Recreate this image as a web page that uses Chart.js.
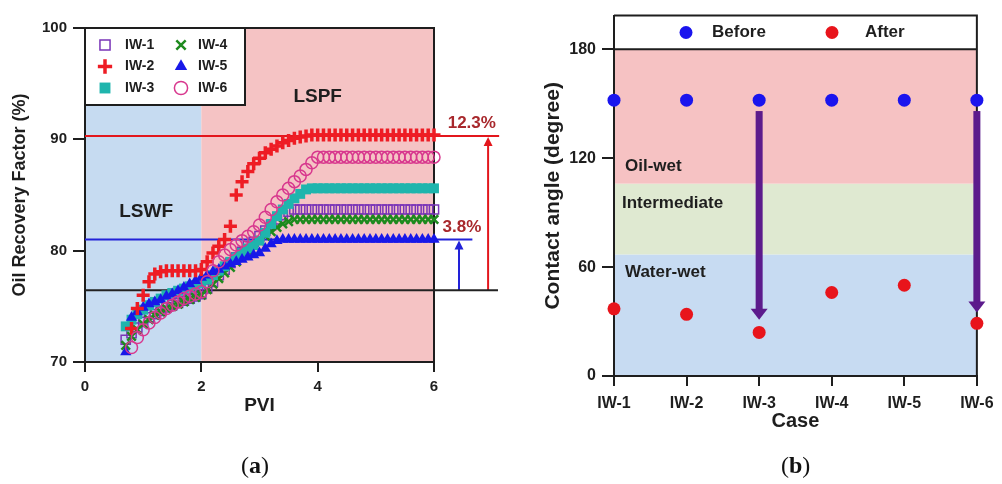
<!DOCTYPE html>
<html>
<head>
<meta charset="utf-8">
<script src="https://cdn.jsdelivr.net/npm/chart.js@4.4.1/dist/chart.umd.min.js"></script>
<style>
  html, body { margin: 0; padding: 0; background: #fff; }
  body { width: 1002px; height: 484px; position: relative; overflow: hidden; }
  canvas { position: absolute; top: 0; }
  #chartA { left: 0; }
  #chartB { left: 510px; }
  .cap { position: absolute; top: 451px; font-family: "Liberation Serif", "DejaVu Serif", serif; font-size: 24px; line-height: 28px; color: #111; }
</style>
</head>
<body>
<canvas id="chartA" width="510" height="484"></canvas>
<canvas id="chartB" width="492" height="484"></canvas>
<div class="cap" style="left:241px">(<b>a</b>)</div>
<div class="cap" style="left:781px">(<b>b</b>)</div>
<script>
// ---------- (a) oil recovery factor vs PVI ----------
const pvi = [0.7,0.8,0.9,1.0,1.1,1.2,1.3,1.4,1.5,1.6,
             1.7,1.8,1.9,2.0,2.1,2.2,2.3,2.4,2.5,2.6,
             2.7,2.8,2.9,3.0,3.1,3.2,3.3,3.4,3.5,3.6,
             3.7,3.8,3.9,4.0,4.1,4.2,4.3,4.4,4.5,4.6,
             4.7,4.8,4.9,5.0,5.1,5.2,5.3,5.4,5.5,5.6,
             5.7,5.8,5.9,6.0];

const iw1 = [72.0,72.6,73.1,73.6,74.0,74.3,74.6,74.9,75.1,75.3,
             75.5,75.7,75.9,76.1,76.6,77.2,77.8,78.3,78.9,79.4,
             79.9,80.4,80.8,81.3,81.8,82.3,82.8,83.2,83.5,83.7,
             83.7,83.7,83.7,83.7,83.7,83.7,83.7,83.7,83.7,83.7,
             83.7,83.7,83.7,83.7,83.7,83.7,83.7,83.7,83.7,83.7,
             83.7,83.7,83.7,83.7];
const iw2 = [null,73.0,74.8,76.0,77.2,77.9,78.1,78.2,78.2,78.2,
             78.2,78.2,78.2,78.3,79.0,79.8,80.4,81.0,82.2,85.0,
             86.2,87.1,87.8,88.3,88.8,89.1,89.4,89.7,89.9,90.1,
             90.2,90.3,90.4,90.4,90.4,90.4,90.4,90.4,90.4,90.4,
             90.4,90.4,90.4,90.4,90.4,90.4,90.4,90.4,90.4,90.4,
             90.4,90.4,90.4,90.4];
const iw3 = [73.2,73.8,74.3,74.7,75.1,75.4,75.7,76.0,76.2,76.4,
             76.6,76.8,76.9,77.1,77.4,77.8,78.2,78.6,79.0,79.4,
             79.8,80.2,80.5,80.9,81.6,82.4,83.1,83.7,84.2,84.7,
             85.1,85.5,85.6,85.6,85.6,85.6,85.6,85.6,85.6,85.6,
             85.6,85.6,85.6,85.6,85.6,85.6,85.6,85.6,85.6,85.6,
             85.6,85.6,85.6,85.6];
const iw4 = [71.5,72.3,72.9,73.4,73.8,74.2,74.5,74.8,75.0,75.2,
             75.4,75.6,75.8,76.0,76.5,77.0,77.5,78.0,78.5,79.0,
             79.5,80.0,80.5,80.9,81.3,81.7,82.1,82.4,82.6,82.8,
             82.8,82.8,82.8,82.8,82.8,82.8,82.8,82.8,82.8,82.8,
             82.8,82.8,82.8,82.8,82.8,82.8,82.8,82.8,82.8,82.8,
             82.8,82.8,82.8,82.8];
const iw5 = [70.9,74.0,74.5,74.9,75.2,75.4,75.6,75.9,76.1,76.4,
             76.7,77.0,77.3,77.6,77.8,78.1,78.3,78.6,78.8,79.0,
             79.2,79.4,79.6,79.8,80.2,80.6,80.9,81.0,81.0,81.0,
             81.0,81.0,81.0,81.0,81.0,81.0,81.0,81.0,81.0,81.0,
             81.0,81.0,81.0,81.0,81.0,81.0,81.0,81.0,81.0,81.0,
             81.0,81.0,81.0,81.0];
const iw6 = [null,71.3,72.2,72.9,73.5,74.0,74.4,74.8,75.1,75.4,
             75.7,75.9,76.1,76.3,77.2,78.2,79.0,79.6,80.1,80.5,
             80.9,81.3,81.7,82.3,83.0,83.7,84.4,85.0,85.6,86.2,
             86.7,87.3,87.9,88.4,88.4,88.4,88.4,88.4,88.4,88.4,
             88.4,88.4,88.4,88.4,88.4,88.4,88.4,88.4,88.4,88.4,
             88.4,88.4,88.4,88.4];

const seriesNames = ["IW-1","IW-2","IW-3","IW-4","IW-5","IW-6"];
const pviTicks = [0, 2, 4, 6];
const recoveryTicks = [70, 80, 90, 100];
const zonesA = [[0, 2], [2, 6]];          // LSWF, LSPF
const refLevels = [90.3, 81.0, 76.45];   // IW-2 end, IW-5 end, base
const refEnds = [7.12, 6.66, 7.1];
const gainLabels = ["12.3%", "3.8%"];
const gainX = [6.93, 6.43];

// ---------- (b) contact angle ----------
const cases = ["IW-1","IW-2","IW-3","IW-4","IW-5","IW-6"];
const angleBefore = [152, 152, 152, 152, 152, 152];
const angleAfter = [37, 34, 24, 46, 50, 29];
const angleTicks = [0, 60, 120, 180];
const wetBands = [[0, 67], [67, 106], [106, 180]];
const arrowCases = [3, 6];
const arrowFrom = 146;
const arrowTo = [31, 35];

const FONT = '"Liberation Sans", Arial, Helvetica, sans-serif';
const INK = "#1e1e1e";

const zoneColorsA = ["#c6dbf1", "#f5c3c4"];
const refColors = ["#e3161c", "#2222d8", "#222222"];
const bandColors = ["#c7dbf2", "#dfe9d1", "#f6c2c3"];

const markA = [
    {style:"rect",     r:6.5, w:1.5, fill:"rgba(0,0,0,0)", line:"#7a35b8", order:5},
    {style:"cross",    r:6.5, w:3.5, fill:"#ee1c24",       line:"#ee1c24", order:1},
    {style:"rect",     r:7,   w:0,   fill:"#1fb5ad",       line:"#1fb5ad", order:3},
    {style:"crossRot", r:6,   w:2.5, fill:"#1e8a1e",       line:"#1e8a1e", order:4},
    {style:"triangle", r:6.5, w:0,   fill:"#1818e8",       line:"#1818e8", order:2},
    {style:"circle",   r:6,   w:1.5, fill:"rgba(0,0,0,0)", line:"#d8388e", order:0}
];

function drawMark(ctx, m, x, y, k) {
    ctx.save();
    ctx.fillStyle = m.fill;
    ctx.strokeStyle = m.line;
    ctx.lineWidth = m.w;
    if (Chart.helpers && Chart.helpers.drawPoint) {
        Chart.helpers.drawPoint(ctx, {pointStyle: m.style, radius: m.r * k, rotation: 0, borderWidth: m.w}, x, y);
    }
    ctx.restore();
}

const panelA = {
    id: "panelA",
    beforeDraw(chart) {
        const {ctx, chartArea: a, scales: {x}} = chart;
        ctx.save();
        zonesA.forEach((z, i) => {
            const x0 = x.getPixelForValue(z[0]), x1 = x.getPixelForValue(z[1]);
            ctx.fillStyle = zoneColorsA[i];
            ctx.fillRect(x0, a.top, x1 - x0, a.bottom - a.top);
        });
        ctx.restore();
    },
    beforeDatasetsDraw(chart) {
        const {ctx, chartArea: a, scales: {x, y}} = chart;
        ctx.save();
        ctx.strokeStyle = INK;
        ctx.lineWidth = 2;
        ctx.beginPath();
        ctx.moveTo(a.left, a.top);
        ctx.lineTo(a.right, a.top);
        ctx.lineTo(a.right, a.bottom);
        ctx.stroke();

        ctx.fillStyle = INK;
        ctx.font = "bold 19px " + FONT;
        ctx.textAlign = "center";
        ctx.textBaseline = "middle";
        ctx.fillText("LSWF", x.getPixelForValue(1.05), y.getPixelForValue(83.5));
        ctx.fillText("LSPF", x.getPixelForValue(4.0), y.getPixelForValue(93.8));

        // gain arrows from the base line up to each final level
        const base = y.getPixelForValue(refLevels[2]);
        gainX.forEach((gx, i) => {
            const ax = x.getPixelForValue(gx);
            const top = y.getPixelForValue(refLevels[i]);
            ctx.strokeStyle = refColors[i];
            ctx.fillStyle = refColors[i];
            ctx.lineWidth = 2;
            ctx.beginPath();
            ctx.moveTo(ax, base);
            ctx.lineTo(ax, top + 7);
            ctx.stroke();
            ctx.beginPath();
            ctx.moveTo(ax, top + 1);
            ctx.lineTo(ax - 4.5, top + 10);
            ctx.lineTo(ax + 4.5, top + 10);
            ctx.closePath();
            ctx.fill();
        });
        ctx.restore();
    },
    afterDraw(chart) {
        const {ctx, chartArea: a, scales: {x, y}} = chart;
        ctx.save();
        // legend box
        const bx = a.left, by = a.top, bw = 160, bh = 77;
        ctx.fillStyle = "#fff";
        ctx.fillRect(bx, by, bw, bh);
        ctx.strokeStyle = INK;
        ctx.lineWidth = 2;
        ctx.strokeRect(bx, by, bw, bh);
        ctx.font = "bold 14px " + FONT;
        ctx.textAlign = "left";
        ctx.textBaseline = "middle";
        seriesNames.forEach((name, i) => {
            const col = Math.floor(i / 3), row = i % 3;
            const ty = by + 17 + row * 21.5;
            drawMark(ctx, markA[i], bx + (col ? 96 : 20), ty, 1.1);
            ctx.fillStyle = INK;
            ctx.fillText(name, bx + (col ? 113 : 40), ty);
        });
        // gain labels
        ctx.fillStyle = "#a8282c";
        ctx.font = "bold 17px " + FONT;
        ctx.textAlign = "center";
        ctx.fillText(gainLabels[0], x.getPixelForValue(6.65), y.getPixelForValue(refLevels[0] + 1.15));
        ctx.fillText(gainLabels[1], x.getPixelForValue(6.48), y.getPixelForValue(refLevels[1] + 1.1));
        ctx.restore();
    }
};

const datasetsA = [iw1, iw2, iw3, iw4, iw5, iw6].map((vals, i) => ({
    label: seriesNames[i],
    data: pvi.map((p, k) => ({x: p, y: vals[k]})),
    showLine: false,
    pointStyle: markA[i].style,
    pointRadius: markA[i].r,
    pointHoverRadius: markA[i].r,
    pointBorderWidth: markA[i].w,
    pointBackgroundColor: markA[i].fill,
    pointBorderColor: markA[i].line,
    clip: false,
    order: markA[i].order
}));

refLevels.forEach((lv, i) => {
    datasetsA.push({
        label: "ref" + i,
        data: [{x: 0, y: lv}, {x: refEnds[i], y: lv}],
        showLine: true,
        borderColor: refColors[i],
        borderWidth: 2,
        pointRadius: 0,
        clip: false,
        order: 10
    });
});

const tickFont = size => ({family: FONT, size: size, weight: "bold"});

new Chart(document.getElementById("chartA"), {
    type: "scatter",
    data: {datasets: datasetsA},
    options: {
        responsive: false,
        animation: false,
        devicePixelRatio: 1,
        layout: {padding: {left: 0, top: 28, right: 76, bottom: 66.6}},
        plugins: {legend: {display: false}, tooltip: {enabled: false}},
        scales: {
            x: {
                type: "linear", min: 0, max: 6,
                afterBuildTicks: s => { s.ticks = pviTicks.map(v => ({value: v})); },
                afterFit: s => { s.height = 55.4; },
                ticks: {font: tickFont(15), color: INK, padding: 6, autoSkip: false, maxRotation: 0},
                grid: {display: true, drawOnChartArea: false, drawTicks: true, tickLength: 10, color: INK, lineWidth: 2},
                border: {display: true, color: INK, width: 2},
                title: {display: true, text: "PVI", font: tickFont(19), color: INK, padding: 0}
            },
            y: {
                type: "linear", min: 70, max: 100,
                afterBuildTicks: s => { s.ticks = recoveryTicks.map(v => ({value: v})); },
                afterFit: s => { s.width = 85; },
                ticks: {font: tickFont(15), color: INK, padding: 6},
                grid: {display: true, drawOnChartArea: false, drawTicks: true, tickLength: 12, color: INK, lineWidth: 2},
                border: {display: true, color: INK, width: 2},
                title: {display: true, text: "Oil Recovery Factor (%)", font: tickFont(18), color: INK, padding: {top: 9.2, bottom: 0}}
            }
        }
    },
    plugins: [panelA]
});

// ---------- panel (b) ----------
const panelB = {
    id: "panelB",
    beforeDraw(chart) {
        const {ctx, chartArea: a, scales: {y}} = chart;
        ctx.save();
        ctx.fillStyle = "#fff";
        ctx.fillRect(a.left, a.top, a.right - a.left, a.bottom - a.top);
        wetBands.forEach((b, i) => {
            const y0 = y.getPixelForValue(b[1]), y1 = y.getPixelForValue(b[0]);
            ctx.fillStyle = bandColors[i];
            ctx.fillRect(a.left, y0, a.right - a.left, y1 - y0);
        });
        ctx.restore();
    },
    beforeDatasetsDraw(chart) {
        const {ctx, chartArea: a, scales: {x, y}} = chart;
        ctx.save();
        const y180 = y.getPixelForValue(180);
        ctx.strokeStyle = INK;
        ctx.lineWidth = 2;
        ctx.beginPath();
        ctx.moveTo(a.left, y180);
        ctx.lineTo(a.right, y180);
        ctx.moveTo(a.left, a.top);
        ctx.lineTo(a.right, a.top);
        ctx.lineTo(a.right, a.bottom);
        ctx.stroke();

        ctx.fillStyle = INK;
        ctx.font = "bold 17px " + FONT;
        ctx.textAlign = "left";
        ctx.textBaseline = "middle";
        ctx.fillText("Oil-wet", a.left + 11, y.getPixelForValue(115.5));
        ctx.fillText("Intermediate", a.left + 8, y.getPixelForValue(95.2));
        ctx.fillText("Water-wet", a.left + 11, y.getPixelForValue(57));

        // wettability-change arrows
        ctx.fillStyle = "#5c1b8c";
        arrowCases.forEach((c, i) => {
            const ax = x.getPixelForValue(c);
            const y0 = y.getPixelForValue(arrowFrom);
            const tip = y.getPixelForValue(arrowTo[i]);
            const headLen = 11;
            ctx.fillRect(ax - 3.5, y0, 7, tip - headLen - y0 + 1);
            ctx.beginPath();
            ctx.moveTo(ax - 8.5, tip - headLen);
            ctx.lineTo(ax + 8.5, tip - headLen);
            ctx.lineTo(ax, tip);
            ctx.closePath();
            ctx.fill();
        });
        ctx.restore();
    },
    afterDraw(chart) {
        const {ctx, chartArea: a, scales: {y}} = chart;
        ctx.save();
        const my = (a.top + y.getPixelForValue(180)) / 2;
        ctx.font = "bold 17px " + FONT;
        ctx.textAlign = "left";
        ctx.textBaseline = "middle";
        ctx.fillStyle = "#1a14ee";
        ctx.beginPath(); ctx.arc(a.left + 72, my, 6.5, 0, Math.PI * 2); ctx.fill();
        ctx.fillStyle = INK;
        ctx.fillText("Before", a.left + 98, my);
        ctx.fillStyle = "#e8141b";
        ctx.beginPath(); ctx.arc(a.left + 218, my, 6.5, 0, Math.PI * 2); ctx.fill();
        ctx.fillStyle = INK;
        ctx.fillText("After", a.left + 251, my);
        ctx.restore();
    }
};

new Chart(document.getElementById("chartB"), {
    type: "scatter",
    data: {
        datasets: [
            {
                label: "Before",
                data: cases.map((c, i) => ({x: i + 1, y: angleBefore[i]})),
                pointStyle: "circle", pointRadius: 6.5, pointHoverRadius: 6.5,
                pointBorderWidth: 0, pointBackgroundColor: "#1a14ee", clip: false
            },
            {
                label: "After",
                data: cases.map((c, i) => ({x: i + 1, y: angleAfter[i]})),
                pointStyle: "circle", pointRadius: 6.5, pointHoverRadius: 6.5,
                pointBorderWidth: 0, pointBackgroundColor: "#e8141b", clip: false
            }
        ]
    },
    options: {
        responsive: false,
        animation: false,
        devicePixelRatio: 1,
        layout: {padding: {left: 0, top: 13, right: 17, bottom: 50.3}},
        plugins: {legend: {display: false}, tooltip: {enabled: false}},
        scales: {
            x: {
                type: "linear", min: 1, max: 6,
                afterBuildTicks: s => { s.ticks = cases.map((c, i) => ({value: i + 1})); },
                afterFit: s => { s.height = 57.7; },
                ticks: {font: tickFont(16), color: INK, padding: 8.4, autoSkip: false, maxRotation: 0,
                        callback: (v, i) => cases[i]},
                grid: {display: true, drawOnChartArea: false, drawTicks: true, tickLength: 10, color: INK, lineWidth: 2},
                border: {display: true, color: INK, width: 2},
                title: {display: true, text: "Case", font: tickFont(20), color: INK, padding: 0}
            },
            y: {
                type: "linear", min: 0, max: 198.6,
                afterBuildTicks: s => { s.ticks = angleTicks.map(v => ({value: v})); },
                afterFit: s => { s.width = 104; },
                ticks: {font: tickFont(16), color: INK, padding: 6},
                grid: {display: true, drawOnChartArea: false, drawTicks: true, tickLength: 12, color: INK, lineWidth: 2},
                border: {display: true, color: INK, width: 2},
                title: {display: true, text: "Contact angle (degree)", font: tickFont(21), color: INK, padding: {top: 30.4, bottom: 0}}
            }
        }
    },
    plugins: [panelB]
});
</script>
</body>
</html>
